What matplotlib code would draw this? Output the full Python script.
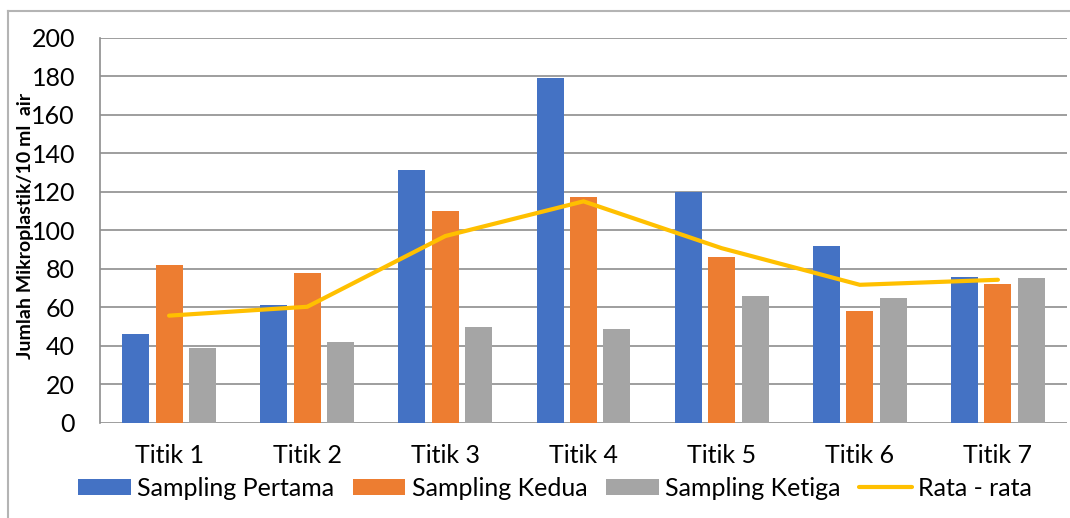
import matplotlib
matplotlib.use("Agg")
import matplotlib.pyplot as plt
from matplotlib.lines import Line2D
import numpy as np

plt.rcParams['font.family'] = ['Lato', 'DejaVu Sans']

categories = ["Titik 1", "Titik 2", "Titik 3", "Titik 4", "Titik 5", "Titik 6", "Titik 7"]
sampling_pertama = [46, 61, 131, 179, 120, 92, 76]
sampling_kedua = [82, 78, 110, 117, 86, 58, 72]
sampling_ketiga = [39, 42, 50, 49, 66, 65, 75]
rata_rata = [55.7, 60.3, 97.0, 115.0, 90.7, 71.7, 74.3]
y_ticks = [0, 20, 40, 60, 80, 100, 120, 140, 160, 180, 200]

c_blue = "#4472C4"
c_orange = "#ED7D31"
c_gray = "#A5A5A5"
c_yellow = "#FFC000"
c_grid = "#8E8E8E"

W, H = 1070, 518
fig = plt.figure(figsize=(W / 100, H / 100), dpi=100)
ax = fig.add_axes([100 / W, 1 - 423 / H, 967 / W, (423 - 37.5) / H])

x = np.arange(len(categories))
bw = 0.196
pitch = 0.242
b1 = ax.bar(x - pitch, sampling_pertama, bw, color=c_blue, label="Sampling Pertama", zorder=3)
b2 = ax.bar(x, sampling_kedua, bw, color=c_orange, label="Sampling Kedua", zorder=3)
b3 = ax.bar(x + pitch, sampling_ketiga, bw, color=c_gray, label="Sampling Ketiga", zorder=3)
ln, = ax.plot(x, rata_rata, color=c_yellow, lw=3, solid_capstyle="round",
              solid_joinstyle="miter", label="Rata - rata", zorder=4)

ax.set_xlim(-0.5, len(categories) - 0.5)
ax.set_ylim(0, 200)
ax.set_yticks(y_ticks)
ax.set_xticks(x)
ax.set_xticklabels(categories)
ax.grid(axis="y", color=c_grid, lw=1.2, zorder=0)
ax.set_axisbelow(True)

for s in ["top", "right", "bottom"]:
    ax.spines[s].set_visible(False)
ax.spines["left"].set_color(c_grid)
ax.spines["left"].set_linewidth(1.2)
ax.tick_params(axis="both", length=0, labelsize=18, colors="black")
ax.tick_params(axis="y", pad=18)
ax.tick_params(axis="x", pad=15)

fig.text(25.5 / W, 1 - 226 / H, "Jumlah Mikroplastik/10 ml  air", rotation=90,
         ha="center", va="center", fontsize=14, fontweight="bold")

ax.legend(handles=[b1, b2, b3, ln], loc="center", bbox_to_anchor=(555 / W, 1 - 488 / H),
          bbox_transform=fig.transFigure, ncol=4, frameon=False, fontsize=18,
          handlelength=2.1, handleheight=0.6, handletextpad=0.25,
          columnspacing=0.75, borderaxespad=0)

# outer chart frame (left and top edges)
fig.add_artist(Line2D([8 / W, 8 / W], [0, 1 - 11 / H], transform=fig.transFigure,
                      color="#B4B4B4", lw=1.5))
fig.add_artist(Line2D([8 / W, 1], [1 - 11 / H, 1 - 11 / H], transform=fig.transFigure,
                      color="#B4B4B4", lw=1.5))

fig.savefig("out.png", dpi=100)
